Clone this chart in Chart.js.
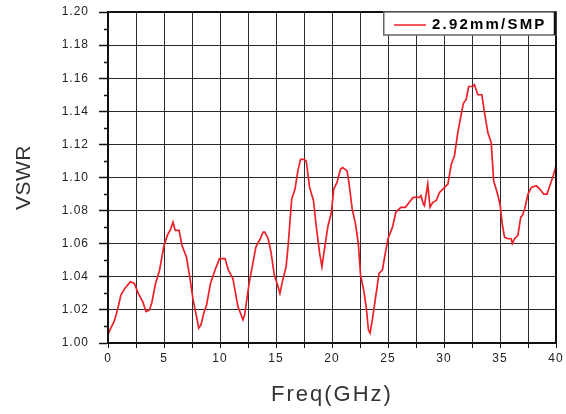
<!DOCTYPE html>
<html>
<head>
<meta charset="utf-8">
<title>VSWR</title>
<script src="https://cdn.jsdelivr.net/npm/chart.js@4.4.1/dist/chart.umd.min.js"></script>
<style>
  html, body { margin: 0; padding: 0; background: #fff; }
</style>
</head>
<body>
<canvas id="vswrChart" width="566" height="414"></canvas>
<script>
const freqGHz = [
  0, 0.25, 0.55, 0.85, 1.15, 1.5, 2.0, 2.35, 2.7, 3.1,
  3.4, 3.7, 3.9, 4.25, 4.6, 5.0, 5.3, 5.6, 5.8, 6.0,
  6.35, 6.6, 7.0, 7.3, 7.6, 7.9, 8.1, 8.3, 8.55, 8.8,
  9.15, 9.55, 9.95, 10.45, 10.75, 11.15, 11.6, 12.05, 12.2, 12.6,
  13.2, 13.6, 13.85, 14.0, 14.3, 14.55, 14.85, 15.1, 15.35, 15.6,
  15.9, 16.1, 16.4, 16.7, 16.95, 17.2, 17.5, 17.7, 18.0, 18.35,
  18.6, 18.9, 19.1, 19.4, 19.65, 19.95, 20.15, 20.45, 20.75, 20.95,
  21.35, 21.55, 21.8, 22.1, 22.35, 22.55, 22.85, 23.05, 23.25, 23.4,
  23.6, 23.9, 24.2, 24.5, 24.75, 25.0, 25.4, 25.7, 26.15, 26.55,
  26.9, 27.25, 27.55, 27.8, 27.95, 28.15, 28.25, 28.55, 28.75, 29.0,
  29.3, 29.6, 30.05, 30.35, 30.65, 30.93, 31.23, 31.53, 31.74, 31.98,
  32.2, 32.57, 32.72, 33.02, 33.38, 33.62, 33.92, 34.22, 34.43, 34.7,
  35.0, 35.2, 35.4, 35.7, 36.0, 36.1, 36.3, 36.6, 36.85, 37.0,
  37.2, 37.5, 37.8, 38.25, 38.55, 38.9, 39.2, 39.45, 39.75, 40.0
];

const vswr = [
  1.005, 1.009, 1.013, 1.020, 1.029, 1.033, 1.037, 1.036, 1.030, 1.025,
  1.019, 1.020, 1.024, 1.036, 1.044, 1.059, 1.065, 1.069, 1.073, 1.068,
  1.068, 1.059, 1.052, 1.040, 1.026, 1.016, 1.009, 1.011, 1.018, 1.023,
  1.036, 1.044, 1.051, 1.051, 1.044, 1.039, 1.022, 1.014, 1.017, 1.036,
  1.058, 1.063, 1.067, 1.067, 1.063, 1.055, 1.041, 1.036, 1.030, 1.038,
  1.046, 1.060, 1.087, 1.093, 1.104, 1.111, 1.111, 1.110, 1.094, 1.086,
  1.070, 1.054, 1.046, 1.060, 1.071, 1.079, 1.093, 1.097, 1.105, 1.106,
  1.104, 1.095, 1.081, 1.072, 1.060, 1.041, 1.031, 1.022, 1.008, 1.006,
  1.014, 1.028, 1.042, 1.044, 1.054, 1.063, 1.070, 1.079, 1.082, 1.082,
  1.085, 1.088, 1.088, 1.088, 1.089, 1.084, 1.083, 1.096, 1.082, 1.085,
  1.086, 1.091, 1.094, 1.096, 1.108, 1.113, 1.127, 1.138, 1.145, 1.147,
  1.155, 1.155, 1.156, 1.150, 1.150, 1.139, 1.127, 1.121, 1.098, 1.092,
  1.084, 1.072, 1.064, 1.063, 1.063, 1.060, 1.063, 1.065, 1.076, 1.077,
  1.081, 1.090, 1.094, 1.095, 1.093, 1.090, 1.090, 1.095, 1.101, 1.107
];

const seriesLabel = '2.92mm/SMP';
const xRange = [0, 40];
const xGridStep = 2.5;   // grid every 2.5, labels every 5
const yRange = [1.0, 1.2];
const yGridStep = 0.01;  // minor ticks every 0.01, labels every 0.02

const gridColor = '#2b2b2b';
const fontFamily = '"Liberation Sans", Arial, Helvetica, sans-serif';

const isMinorY = v => Math.round(v * 100) % 2 !== 0;

// wide-ish lettering like the original; titles get their own spacing
const lettering = {
  id: 'lettering',
  beforeDraw(chart) { chart.ctx.letterSpacing = '1px'; },
  afterLayout(chart) {
    const spacing = { x: '2px', y: '0.5px' };
    Object.keys(spacing).forEach(id => {
      const s = chart.scales[id];
      if (!s || s._spaced) return;
      const orig = s.drawTitle;
      s.drawTitle = function () {
        this.ctx.save();
        this.ctx.letterSpacing = spacing[id];
        orig.call(this);
        this.ctx.restore();
      };
      s._spaced = true;
    });
  }
};

// short minor ticks on the y axis, then close the frame on top and right
const plotFrame = {
  id: 'plotFrame',
  afterDraw(chart) {
    const { ctx, chartArea: a } = chart;
    const y = chart.scales.y;
    ctx.save();
    ctx.strokeStyle = '#111';
    ctx.lineWidth = 1.5;
    ctx.beginPath();
    y.ticks.forEach(t => {
      if (!isMinorY(t.value)) return;
      const py = Math.round(y.getPixelForValue(t.value)) + 0.5;
      ctx.moveTo(a.left - 4, py);
      ctx.lineTo(a.left, py);
    });
    ctx.stroke();
    ctx.lineWidth = 2;
    ctx.strokeRect(a.left, a.top, a.right - a.left, a.bottom - a.top);
    ctx.restore();
  }
};

// boxed legend sitting in the top right corner
const boxLegend = {
  id: 'boxLegend',
  afterDraw(chart) {
    const { ctx, chartArea: a } = chart;
    const ds = chart.data.datasets[0];
    const right = a.right, left = right - 173, top = a.top, h = 23;
    ctx.save();
    ctx.fillStyle = '#fff';
    ctx.fillRect(left, top, right - left, h);
    ctx.strokeStyle = '#666';
    ctx.lineWidth = 1.5;
    ctx.strokeRect(left + 0.75, top, right - left - 0.75, h);
    ctx.strokeStyle = '#111';
    ctx.lineWidth = 2.5;
    ctx.beginPath();
    ctx.moveTo(right - 1, top);
    ctx.lineTo(right - 1, top + h);
    ctx.stroke();
    ctx.strokeStyle = ds.borderColor;
    ctx.lineWidth = 1.5;
    ctx.beginPath();
    ctx.moveTo(left + 11, top + 13);
    ctx.lineTo(left + 43, top + 13);
    ctx.stroke();
    ctx.letterSpacing = '2.2px';
    ctx.fillStyle = '#000';
    ctx.font = 'bold 15px ' + fontFamily;
    ctx.textBaseline = 'middle';
    ctx.textAlign = 'left';
    ctx.fillText(ds.label, left + 49, top + 13);
    ctx.restore();
  }
};

const ctx = document.getElementById('vswrChart').getContext('2d');
const vswrChart = new Chart(ctx, {
  type: 'line',
  data: {
    datasets: [{
      label: seriesLabel,
      data: freqGHz.map((f, i) => ({ x: f, y: vswr[i] })),
      borderColor: '#ee2027',
      borderWidth: 1.7,
      pointRadius: 0,
      tension: 0,
      fill: false
    }]
  },
  options: {
    responsive: false,
    animation: false,
    layout: { padding: { top: 12, right: 10, left: 0, bottom: 0 } },
    plugins: {
      legend: { display: false },
      tooltip: { enabled: false }
    },
    scales: {
      x: {
        type: 'linear',
        min: xRange[0],
        max: xRange[1],
        afterFit: scale => {
          scale.height = 71;
          scale.paddingLeft = 0;
          scale.paddingRight = 0;
        },
        border: { color: '#111', width: 2 },
        grid: { color: gridColor, lineWidth: 1, tickColor: '#111', tickLength: 5 },
        ticks: {
          stepSize: xGridStep,
          autoSkip: false,
          maxRotation: 0,
          padding: 3,
          color: '#222',
          font: { family: fontFamily, size: 12 },
          callback: v => (v % 5 === 0 ? String(v) : '')
        },
        title: {
          display: true,
          text: 'Freq(GHz)',
          color: '#333',
          font: { family: fontFamily, size: 22 },
          padding: { top: 0, bottom: 6 }
        }
      },
      y: {
        min: yRange[0],
        max: yRange[1],
        afterFit: scale => {
          scale.width = 108;
          scale.paddingTop = 0;
          scale.paddingBottom = 0;
        },
        border: { color: '#111', width: 2 },
        grid: {
          color: c => (c.tick && isMinorY(c.tick.value) ? 'rgba(0,0,0,0)' : gridColor),
          tickColor: c => (c.tick && isMinorY(c.tick.value) ? 'rgba(0,0,0,0)' : '#111'),
          lineWidth: 1,
          tickWidth: 1.5,
          tickLength: 9
        },
        ticks: {
          stepSize: yGridStep,
          autoSkip: false,
          padding: 10,
          color: '#222',
          font: { family: fontFamily, size: 12 },
          callback: v => (isMinorY(v) ? '' : v.toFixed(2))
        },
        title: {
          display: true,
          text: 'VSWR',
          color: '#333',
          font: { family: fontFamily, size: 21 },
          padding: { top: 12, bottom: 0 }
        }
      }
    }
  },
  plugins: [lettering, plotFrame, boxLegend]
});
</script>
</body>
</html>
